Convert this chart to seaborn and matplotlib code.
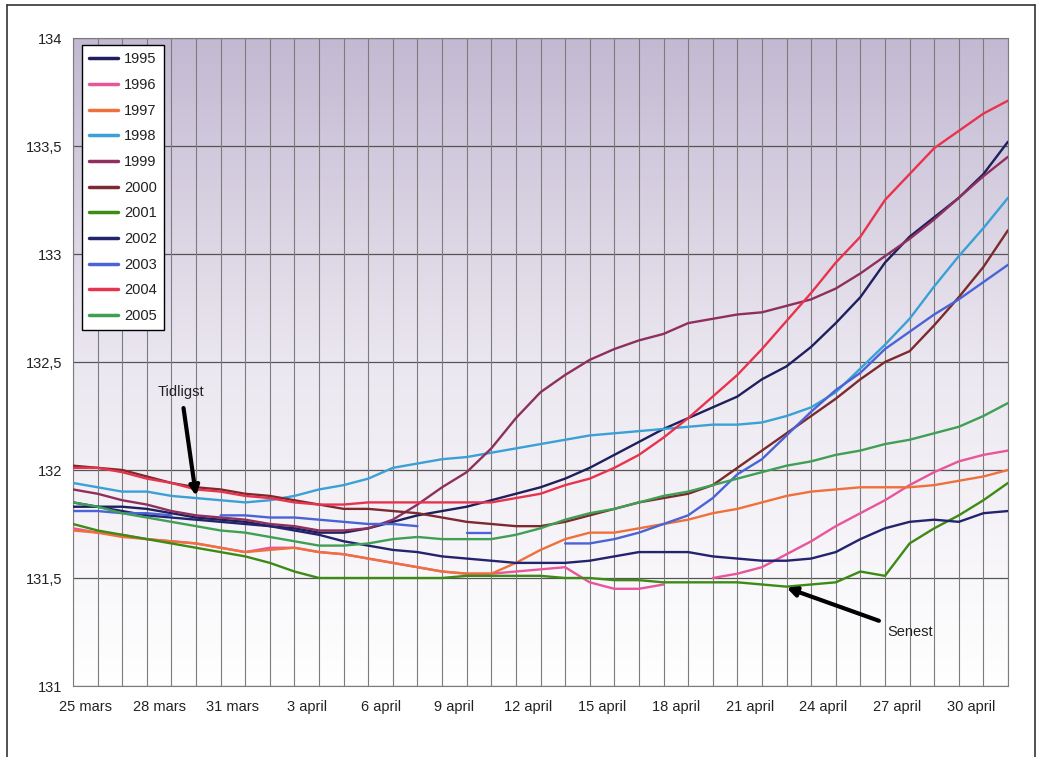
import numpy as np
import pandas as pd
import seaborn as sns
import matplotlib.pyplot as plt
from matplotlib.lines import Line2D
from matplotlib.colors import LinearSegmentedColormap

nan = np.nan

# Day index 0 = 25 mars ... 38 = 2 maj
tick_labels = ["25 mars", "28 mars", "31 mars", "3 april", "6 april", "9 april",
               "12 april", "15 april", "18 april", "21 april", "24 april",
               "27 april", "30 april"]
years = ["1995", "1996", "1997", "1998", "1999", "2000",
         "2001", "2002", "2003", "2004", "2005"]
colors = ["#1e1f5c", "#e8559b", "#f0703c", "#3aa0d5", "#8e2f5e", "#7d2a2e",
          "#3d8b14", "#23236e", "#4a63d6", "#e8334f", "#3f9f55"]

v1995 = [131.83, 131.83, 131.83, 131.82, 131.80, 131.78, 131.77, 131.76, 131.74, 131.73,
         131.71, 131.71, 131.73, 131.76, 131.79, 131.81, 131.83, 131.86, 131.89, 131.92,
         131.96, 132.01, 132.07, 132.13, 132.19, 132.24, 132.29, 132.34, 132.42, 132.48,
         132.57, 132.68, 132.80, 132.96, 133.08, 133.17, 133.26, 133.37, 133.52]
v1996 = [131.73, 131.71, 131.70, 131.68, 131.67, 131.66, 131.64, 131.62, 131.64, 131.64,
         131.62, 131.61, 131.59, 131.57, 131.55, 131.53, 131.52, 131.52, 131.53, 131.54,
         131.55, 131.48, 131.45, 131.45, 131.47, nan, 131.50, 131.52, 131.55, 131.61,
         131.67, 131.74, 131.80, 131.86, 131.93, 131.99, 132.04, 132.07, 132.09]
v1997 = [131.72, 131.71, 131.69, 131.68, 131.67, 131.66, 131.64, 131.62, 131.63, 131.64,
         131.62, 131.61, 131.59, 131.57, 131.55, 131.53, 131.52, 131.52, 131.57, 131.63,
         131.68, 131.71, 131.71, 131.73, 131.75, 131.77, 131.80, 131.82, 131.85, 131.88,
         131.90, 131.91, 131.92, 131.92, 131.92, 131.93, 131.95, 131.97, 132.00]
v1998 = [131.94, 131.92, 131.90, 131.90, 131.88, 131.87, 131.86, 131.85, 131.86, 131.88,
         131.91, 131.93, 131.96, 132.01, 132.03, 132.05, 132.06, 132.08, 132.10, 132.12,
         132.14, 132.16, 132.17, 132.18, 132.19, 132.20, 132.21, 132.21, 132.22, 132.25,
         132.29, 132.36, 132.47, 132.58, 132.70, 132.85, 132.99, 133.12, 133.26]
v1999 = [131.91, 131.89, 131.86, 131.84, 131.81, 131.79, 131.78, 131.77, 131.75, 131.74,
         131.72, 131.72, 131.73, 131.77, 131.84, 131.92, 131.99, 132.10, 132.24, 132.36,
         132.44, 132.51, 132.56, 132.60, 132.63, 132.68, 132.70, 132.72, 132.73, 132.76,
         132.79, 132.84, 132.91, 132.99, 133.07, 133.16, 133.26, 133.36, 133.45]
v2000 = [132.02, 132.01, 132.00, 131.97, 131.94, 131.92, 131.91, 131.89, 131.88, 131.86,
         131.84, 131.82, 131.82, 131.81, 131.80, 131.78, 131.76, 131.75, 131.74, 131.74,
         131.76, 131.79, 131.82, 131.85, 131.87, 131.89, 131.93, 132.01, 132.09, 132.17,
         132.25, 132.33, 132.42, 132.50, 132.55, 132.67, 132.80, 132.94, 133.11]
v2001 = [131.75, 131.72, 131.70, 131.68, 131.66, 131.64, 131.62, 131.60, 131.57, 131.53,
         131.50, 131.50, 131.50, 131.50, 131.50, 131.50, 131.51, 131.51, 131.51, 131.51,
         131.50, 131.50, 131.49, 131.49, 131.48, 131.48, 131.48, 131.48, 131.47, 131.46,
         131.47, 131.48, 131.53, 131.51, 131.66, 131.73, 131.79, 131.86, 131.94]
v2002 = [131.85, 131.83, 131.81, 131.79, 131.78, 131.77, 131.76, 131.75, 131.74, 131.72,
         131.70, 131.67, 131.65, 131.63, 131.62, 131.60, 131.59, 131.58, 131.57, 131.57,
         131.57, 131.58, 131.60, 131.62, 131.62, 131.62, 131.60, 131.59, 131.58, 131.58,
         131.59, 131.62, 131.68, 131.73, 131.76, 131.77, 131.76, 131.80, 131.81]
v2003 = [131.81, 131.81, 131.80, 131.80, 131.79, nan, 131.79, 131.79, 131.78, 131.78,
         131.77, 131.76, 131.75, 131.75, 131.74, nan, 131.71, 131.71, nan, nan,
         131.66, 131.66, 131.68, 131.71, 131.75, 131.79, 131.87, 131.98, 132.05, 132.16,
         132.27, 132.37, 132.45, 132.56, 132.64, 132.72, 132.79, 132.87, 132.95]
v2004 = [132.01, 132.01, 131.99, 131.96, 131.94, 131.91, 131.90, 131.88, 131.87, 131.85,
         131.84, 131.84, 131.85, 131.85, 131.85, 131.85, 131.85, 131.85, 131.87, 131.89,
         131.93, 131.96, 132.01, 132.07, 132.15, 132.24, 132.34, 132.44, 132.56, 132.69,
         132.82, 132.96, 133.08, 133.25, 133.37, 133.49, 133.57, 133.65, 133.71]
v2005 = [131.85, 131.83, 131.80, 131.78, 131.76, 131.74, 131.72, 131.71, 131.69, 131.67,
         131.65, 131.65, 131.66, 131.68, 131.69, 131.68, 131.68, 131.68, 131.70, 131.73,
         131.77, 131.80, 131.82, 131.85, 131.88, 131.90, 131.93, 131.96, 131.99, 132.02,
         132.04, 132.07, 132.09, 132.12, 132.14, 132.17, 132.20, 132.25, 132.31]

series = [v1995, v1996, v1997, v1998, v1999, v2000, v2001, v2002, v2003, v2004, v2005]

# long table, one "segment" per unbroken run so gaps stay open
rows = []
for year, vals in zip(years, series):
    seg = 0
    for day, v in enumerate(vals):
        if np.isnan(v):
            seg += 1
            continue
        rows.append((year, f"{year}-{seg}", day, v))
df = pd.DataFrame(rows, columns=["year", "segment", "day", "level"])

sns.set_theme(style="white")
plt.rcParams["font.family"] = ["Liberation Sans", "DejaVu Sans"]

fig = plt.figure(figsize=(10.42, 7.57), dpi=100)
ax = fig.add_axes([73 / 1042, 1 - 686 / 757, 935 / 1042, 648 / 757])

# lavender-to-white background
bg = LinearSegmentedColormap.from_list("bg", ["#ffffff", "#ebe7f0", "#c3b9d2"])
ax.imshow(np.linspace(0, 1, 256).reshape(-1, 1), extent=[0, 38, 131, 134],
          origin="lower", aspect="auto", cmap=bg, zorder=0)

# one vertical line per day
ax.vlines(range(39), 131, 134, color="#7c7c7c", linewidth=0.8, zorder=1)

sns.lineplot(data=df, x="day", y="level", hue="year", units="segment",
             estimator=None, palette=dict(zip(years, colors)), linewidth=1.7,
             legend=False, ax=ax, zorder=3)

ax.set_xlim(0, 38)
ax.set_ylim(131, 134)
ax.set_xlabel("")
ax.set_ylabel("")

# tick marks every third day, labels sit half a day to the right
ax.set_xticks(range(0, 37, 3), labels=[""] * 13)
ax.set_xticks([d + 0.5 for d in range(0, 37, 3)], labels=tick_labels, minor=True)
yvals = np.arange(131, 134.01, 0.5)
ax.set_yticks(yvals, labels=[f"{v:g}".replace(".", ",") for v in yvals])

ax.grid(which="major", axis="y", color="#555555", linewidth=0.9, zorder=1)
ax.tick_params(axis="both", which="major", direction="out", length=4, width=0.8,
               color="#555555", labelcolor="#222222", labelsize=10.5)
ax.tick_params(axis="x", which="minor", length=0, pad=10, labelsize=10.5,
               labelcolor="#222222")
for sp in ax.spines.values():
    sp.set_color("#7c7c7c")
    sp.set_linewidth(0.8)

handles = [Line2D([], [], color=c, lw=2.5) for c in colors]
leg = ax.legend(handles, years, loc="upper left", bbox_to_anchor=(0.0096, 0.989),
                frameon=True, fancybox=False, edgecolor="black", framealpha=1,
                fontsize=10.5, handlelength=2.0, labelspacing=0.8, borderpad=0.5,
                handletextpad=0.4, borderaxespad=0)
leg.get_frame().set_linewidth(1.0)
for t in leg.get_texts():
    t.set_color("#222222")

arrow = dict(arrowstyle="-|>", color="black", lw=3, mutation_scale=14,
             shrinkA=4, shrinkB=0)
ax.annotate("Tidligst", xy=(5, 131.88), xytext=(4.4, 132.36), ha="center",
            va="center", fontsize=10.5, color="#222222", arrowprops=arrow, zorder=5)
ax.annotate("Senest", xy=(29.0, 131.455), xytext=(33.1, 131.25), ha="left",
            va="center", fontsize=10.5, color="#222222", arrowprops=arrow, zorder=5)

# outer frame of the scanned page
fx0, fx1, fy1 = 7 / 1042, 1035 / 1042, 1 - 5 / 757
for xs, ys in [([fx0, fx0], [0, fy1]), ([fx0, fx1], [fy1, fy1]), ([fx1, fx1], [0, fy1])]:
    fig.add_artist(Line2D(xs, ys, transform=fig.transFigure, color="#333333", lw=1.2))

fig.savefig("out.png", dpi=100)
